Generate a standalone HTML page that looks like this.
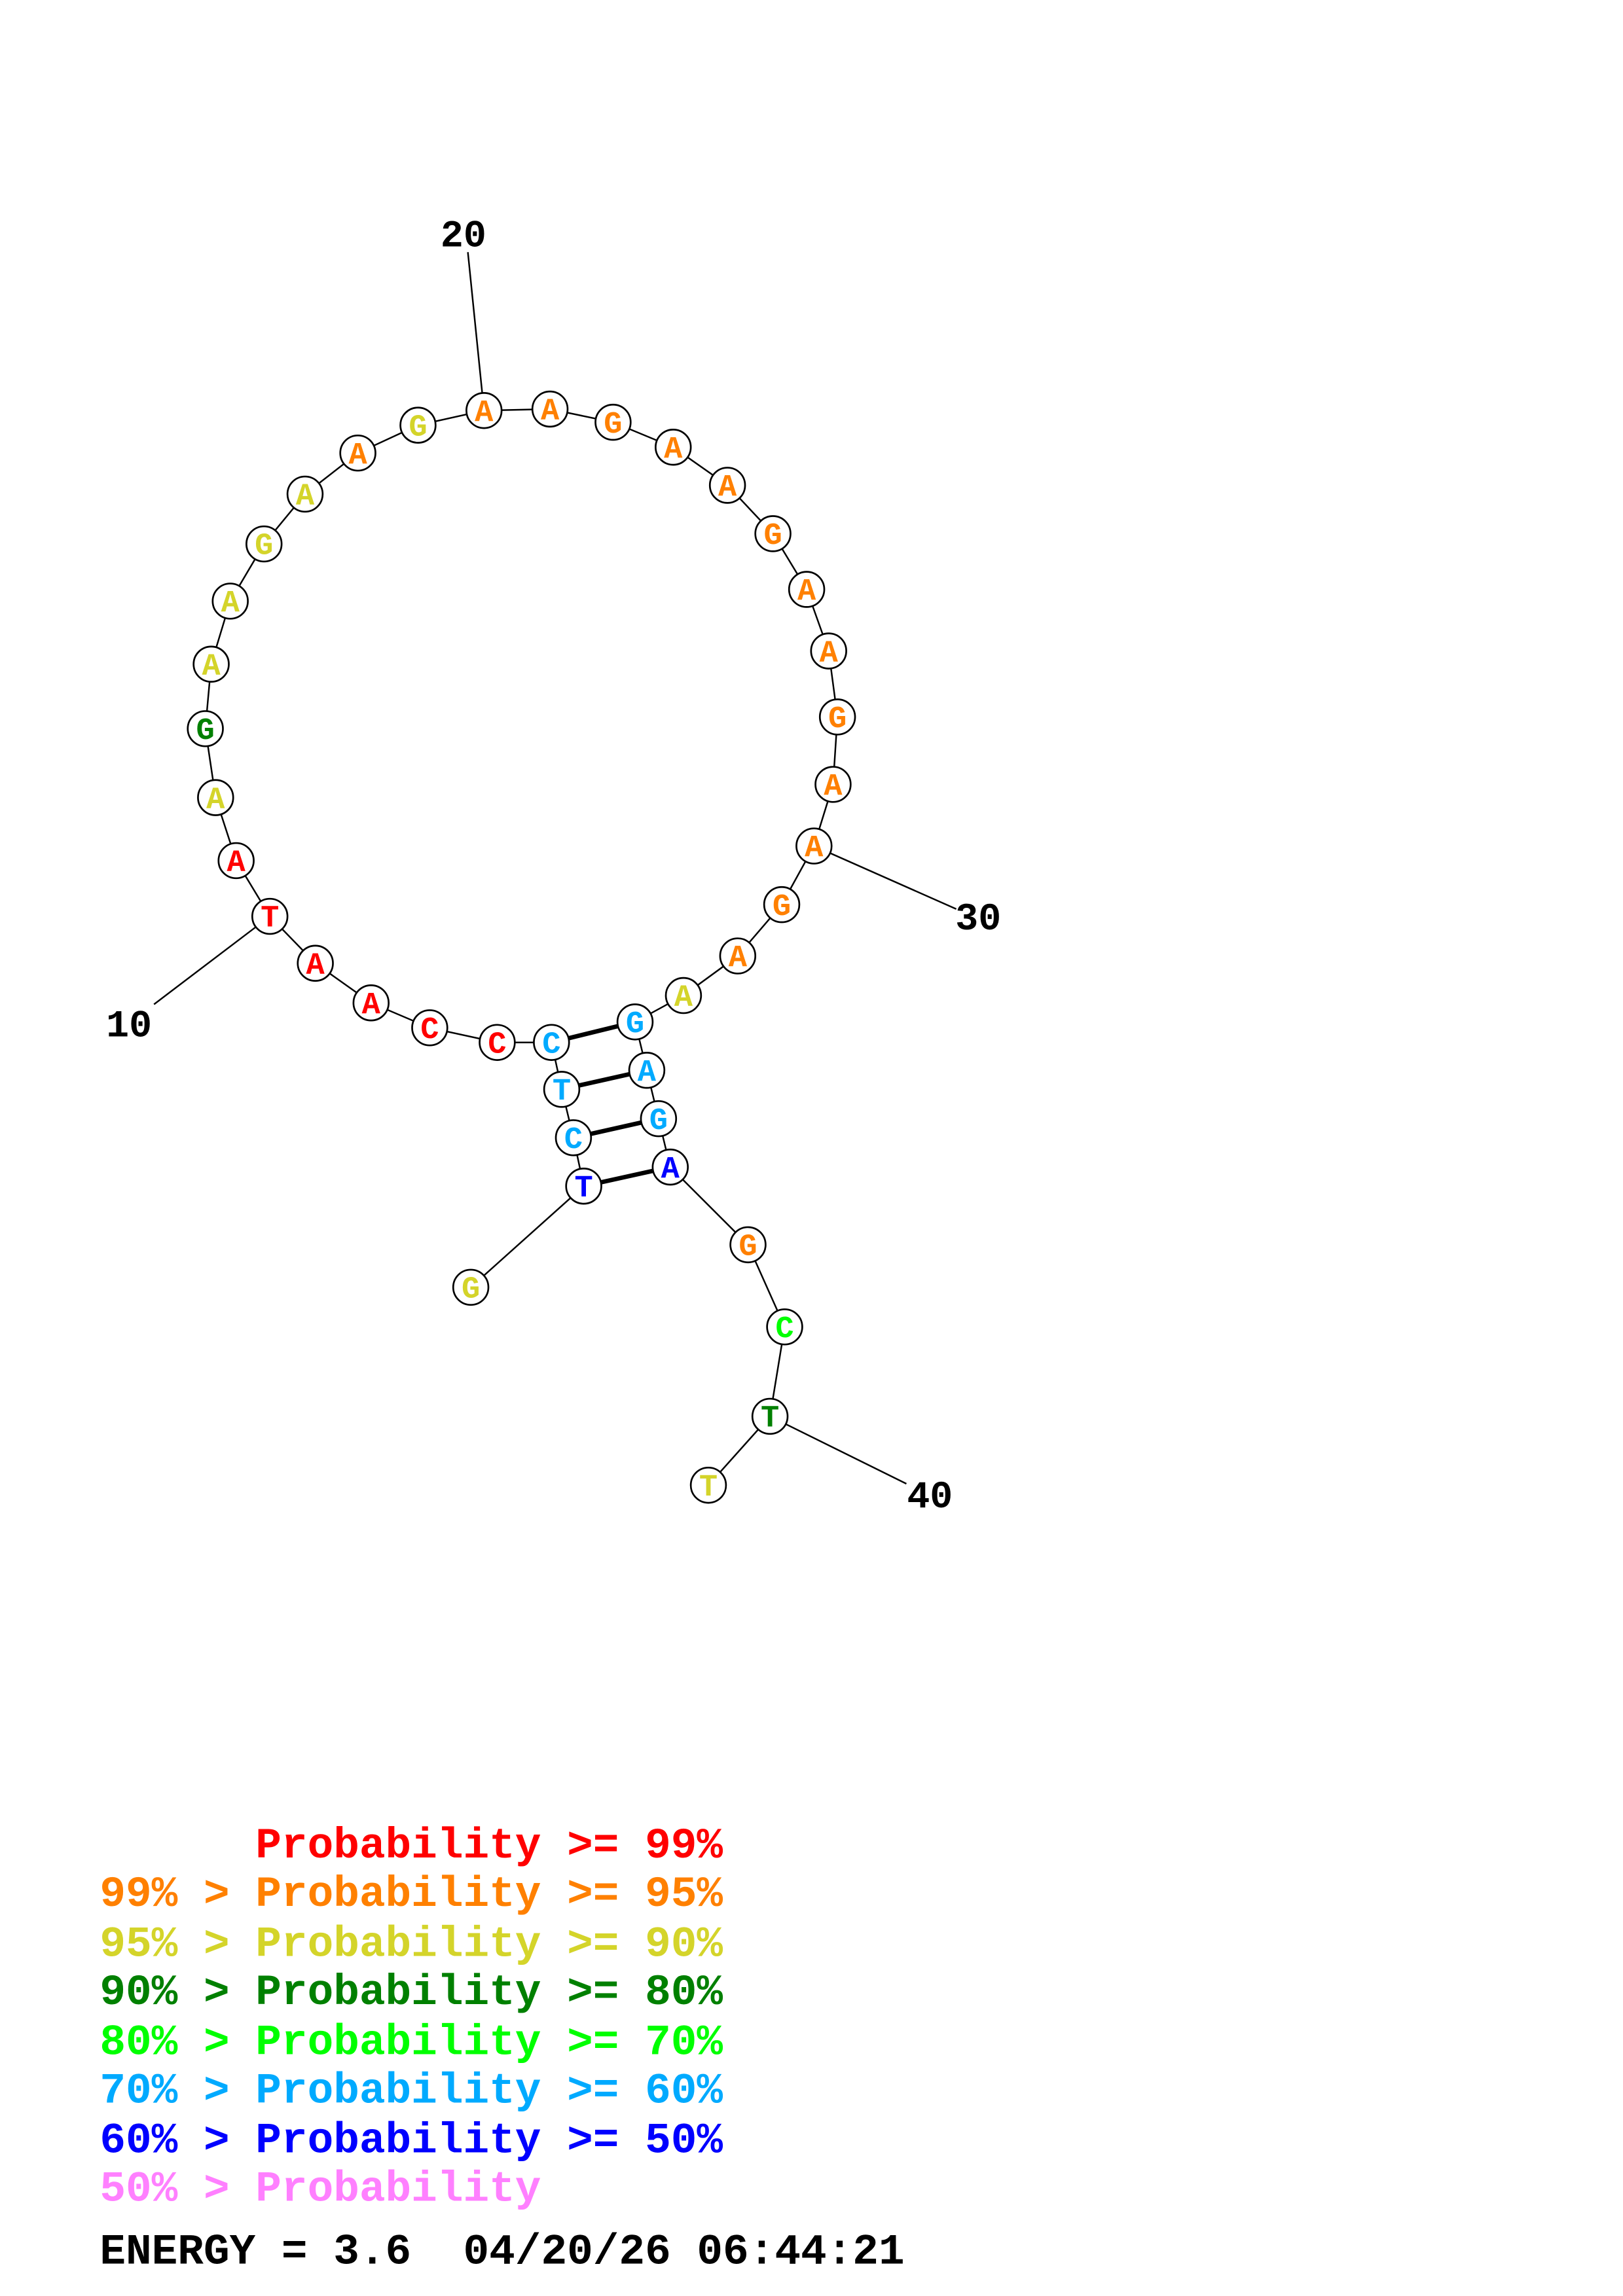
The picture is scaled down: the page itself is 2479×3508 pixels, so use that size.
<!DOCTYPE html>
<html><head><meta charset="utf-8"><style>html,body{margin:0;padding:0;background:#fff}svg{display:block}text{white-space:pre}</style></head>
<body>
<svg width="2479" height="3508" viewBox="0 0 1106.6 1566" preserveAspectRatio="none" xmlns="http://www.w3.org/2000/svg" font-family="Liberation Mono, monospace" font-weight="bold">
<g stroke="#000" stroke-width="1.1" fill="none">
<polyline points="321,878 398,809 391,776 383,743 376,711 339,711 293,701 253,684 215,657 184,625 161,587 147,544 140,497 144,453 157,410 180,371 208,337 244,309 285,290 330,280 375,279 418,288 459,305 496,331 527,364 550,402 565,444 571,489 568,535 555,577 533,617 503,652 466,679 433,697 441,730 449,763 457,796 510,849 535,905 525,966 483,1013"/>
<line x1="330" y1="280" x2="319" y2="172"/>
<line x1="184" y1="625" x2="105" y2="685"/>
<line x1="555" y1="577" x2="652" y2="620"/>
<line x1="525" y1="966" x2="618" y2="1012"/>
</g>
<g stroke="#000" stroke-width="3">
<line x1="376" y1="711" x2="433" y2="697"/>
<line x1="383" y1="743" x2="441" y2="730"/>
<line x1="391" y1="776" x2="449" y2="763"/>
<line x1="398" y1="809" x2="457" y2="796"/>
</g>
<g font-size="26" fill="#000" text-anchor="middle">
<text x="316" y="168">20</text>
<text x="88" y="707">10</text>
<text x="667" y="634">30</text>
<text x="634" y="1028">40</text>
</g>
<g stroke="#000" stroke-width="1.2" fill="#fff">
<circle cx="321" cy="878" r="12"/><circle cx="398" cy="809" r="12"/><circle cx="391" cy="776" r="12"/><circle cx="383" cy="743" r="12"/><circle cx="376" cy="711" r="12"/><circle cx="339" cy="711" r="12"/><circle cx="293" cy="701" r="12"/><circle cx="253" cy="684" r="12"/><circle cx="215" cy="657" r="12"/><circle cx="184" cy="625" r="12"/><circle cx="161" cy="587" r="12"/><circle cx="147" cy="544" r="12"/><circle cx="140" cy="497" r="12"/><circle cx="144" cy="453" r="12"/><circle cx="157" cy="410" r="12"/><circle cx="180" cy="371" r="12"/><circle cx="208" cy="337" r="12"/><circle cx="244" cy="309" r="12"/><circle cx="285" cy="290" r="12"/><circle cx="330" cy="280" r="12"/><circle cx="375" cy="279" r="12"/><circle cx="418" cy="288" r="12"/><circle cx="459" cy="305" r="12"/><circle cx="496" cy="331" r="12"/><circle cx="527" cy="364" r="12"/><circle cx="550" cy="402" r="12"/><circle cx="565" cy="444" r="12"/><circle cx="571" cy="489" r="12"/><circle cx="568" cy="535" r="12"/><circle cx="555" cy="577" r="12"/><circle cx="533" cy="617" r="12"/><circle cx="503" cy="652" r="12"/><circle cx="466" cy="679" r="12"/><circle cx="433" cy="697" r="12"/><circle cx="441" cy="730" r="12"/><circle cx="449" cy="763" r="12"/><circle cx="457" cy="796" r="12"/><circle cx="510" cy="849" r="12"/><circle cx="535" cy="905" r="12"/><circle cx="525" cy="966" r="12"/><circle cx="483" cy="1013" r="12"/>
</g>
<g font-size="21" text-anchor="middle">
<text x="321" y="885" fill="#d4d42a">G</text>
<text x="398" y="816" fill="#0000ff">T</text>
<text x="391" y="783" fill="#00aaff">C</text>
<text x="383" y="750" fill="#00aaff">T</text>
<text x="376" y="718" fill="#00aaff">C</text>
<text x="339" y="718" fill="#ff0000">C</text>
<text x="293" y="708" fill="#ff0000">C</text>
<text x="253" y="691" fill="#ff0000">A</text>
<text x="215" y="664" fill="#ff0000">A</text>
<text x="184" y="632" fill="#ff0000">T</text>
<text x="161" y="594" fill="#ff0000">A</text>
<text x="147" y="551" fill="#d4d42a">A</text>
<text x="140" y="504" fill="#008000">G</text>
<text x="144" y="460" fill="#d4d42a">A</text>
<text x="157" y="417" fill="#d4d42a">A</text>
<text x="180" y="378" fill="#d4d42a">G</text>
<text x="208" y="344" fill="#d4d42a">A</text>
<text x="244" y="316" fill="#ff8000">A</text>
<text x="285" y="297" fill="#d4d42a">G</text>
<text x="330" y="287" fill="#ff8000">A</text>
<text x="375" y="286" fill="#ff8000">A</text>
<text x="418" y="295" fill="#ff8000">G</text>
<text x="459" y="312" fill="#ff8000">A</text>
<text x="496" y="338" fill="#ff8000">A</text>
<text x="527" y="371" fill="#ff8000">G</text>
<text x="550" y="409" fill="#ff8000">A</text>
<text x="565" y="451" fill="#ff8000">A</text>
<text x="571" y="496" fill="#ff8000">G</text>
<text x="568" y="542" fill="#ff8000">A</text>
<text x="555" y="584" fill="#ff8000">A</text>
<text x="533" y="624" fill="#ff8000">G</text>
<text x="503" y="659" fill="#ff8000">A</text>
<text x="466" y="686" fill="#d4d42a">A</text>
<text x="433" y="704" fill="#00aaff">G</text>
<text x="441" y="737" fill="#00aaff">A</text>
<text x="449" y="770" fill="#00aaff">G</text>
<text x="457" y="803" fill="#0000ff">A</text>
<text x="510" y="856" fill="#ff8000">G</text>
<text x="535" y="912" fill="#00ff00">C</text>
<text x="525" y="973" fill="#008000">T</text>
<text x="483" y="1020" fill="#d4d42a">T</text>
</g>
<g font-size="29.5">
<text x="68" y="1267" fill="#ff0000">      Probability &gt;= 99%</text>
<text x="68" y="1300" fill="#ff8000">99% &gt; Probability &gt;= 95%</text>
<text x="68" y="1334" fill="#d4d42a">95% &gt; Probability &gt;= 90%</text>
<text x="68" y="1367" fill="#008000">90% &gt; Probability &gt;= 80%</text>
<text x="68" y="1401" fill="#00ff00">80% &gt; Probability &gt;= 70%</text>
<text x="68" y="1434" fill="#00aaff">70% &gt; Probability &gt;= 60%</text>
<text x="68" y="1468" fill="#0000ff">60% &gt; Probability &gt;= 50%</text>
<text x="68" y="1501" fill="#ff80ff">50% &gt; Probability</text>
<text x="68" y="1544" fill="#000">ENERGY = 3.6  04/20/26 06:44:21</text>
</g>
</svg>
</body></html>
